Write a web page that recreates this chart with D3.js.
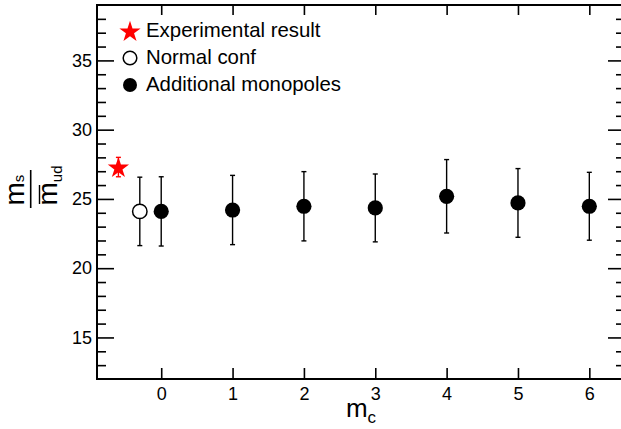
<!DOCTYPE html>
<html>
<head>
<meta charset="utf-8">
<script src="https://cdn.jsdelivr.net/npm/d3@7"></script>
<style>
  html, body { margin: 0; padding: 0; background: #fff; }
  svg { display: block; }
  text { font-family: "Liberation Sans", Arial, Helvetica, sans-serif; fill: #000; }
</style>
</head>
<body>
<svg id="chart" width="621" height="429"></svg>
<script>
// m_s / m_ud ratio versus number of additional monopoles m_c
const mcValues       = [0, 1, 2, 3, 4, 5, 6];
const monopoleRatio  = [24.1, 24.2, 24.47, 24.35, 25.19, 24.71, 24.47];
const monopoleError  = [2.5, 2.5, 2.5, 2.45, 2.65, 2.48, 2.45];

const normalX        = [-0.3];
const normalRatio    = [24.1];
const normalError    = [2.47];

const experimentX     = [-0.6];
const experimentRatio = [27.3];
const experimentError = [0.7];

const xTickValues = [0, 1, 2, 3, 4, 5, 6];
const yTickValues = [15, 20, 25, 30, 35];
const yMinorValues = d3.range(13, 39).filter(v => v % 5 !== 0);

const legendLabels = ["Experimental result", "Normal conf", "Additional monopoles"];

const svg = d3.select("#chart");
const plotLeft = 97, plotRight = 625, plotTop = 5, plotBottom = 379;

const x = d3.scaleLinear().domain([-0.9, 6.5]).range([plotLeft, plotRight]);
const y = d3.scaleLinear().domain([12, 39]).range([plotBottom, plotTop]);

const font = '"Liberation Sans", Arial, Helvetica, sans-serif';

// axes with inward ticks
function styleAxis(g) {
  g.select(".domain").remove();
  g.selectAll(".tick line").attr("stroke", "#000").attr("stroke-width", 1.6);
  g.selectAll(".tick text").attr("font-family", font).attr("font-size", 18).attr("fill", "#000");
}

svg.append("g").attr("transform", `translate(0,${plotBottom})`)
  .call(d3.axisBottom(x).tickValues(xTickValues).tickSize(-11).tickPadding(8).tickFormat(d3.format("d")))
  .call(styleAxis);
svg.append("g").attr("transform", `translate(0,${plotTop})`)
  .call(d3.axisTop(x).tickValues(xTickValues).tickSize(-10).tickFormat(""))
  .call(styleAxis);
svg.append("g").attr("transform", `translate(${plotLeft},0)`)
  .call(d3.axisLeft(y).tickValues(yTickValues).tickSize(-17).tickPadding(5).tickFormat(d3.format("d")))
  .call(styleAxis);
svg.append("g").attr("transform", `translate(${plotLeft},0)`)
  .call(d3.axisLeft(y).tickValues(yMinorValues).tickSize(-9).tickFormat(""))
  .call(styleAxis);
svg.append("g").attr("transform", `translate(${plotRight},0)`)
  .call(d3.axisRight(y).tickValues(yTickValues).tickSize(-17).tickFormat(""))
  .call(styleAxis);
svg.append("g").attr("transform", `translate(${plotRight},0)`)
  .call(d3.axisRight(y).tickValues(yMinorValues).tickSize(-9).tickFormat(""))
  .call(styleAxis);

// frame
svg.append("rect")
  .attr("x", plotLeft).attr("y", plotTop)
  .attr("width", plotRight - plotLeft).attr("height", plotBottom - plotTop)
  .attr("fill", "none").attr("stroke", "#000").attr("stroke-width", 2);

// error bars
function errorBars(xs, ys, es, color) {
  const g = svg.append("g").attr("stroke", color).attr("stroke-width", 1.4);
  xs.forEach((xv, i) => {
    const cx = x(xv), y0 = y(ys[i] - es[i]), y1 = y(ys[i] + es[i]);
    g.append("line").attr("x1", cx).attr("x2", cx).attr("y1", y0).attr("y2", y1);
    g.append("line").attr("x1", cx - 2.5).attr("x2", cx + 2.5).attr("y1", y0).attr("y2", y0);
    g.append("line").attr("x1", cx - 2.5).attr("x2", cx + 2.5).attr("y1", y1).attr("y2", y1);
  });
}

errorBars(experimentX, experimentRatio, experimentError, "#ff0000");
errorBars(normalX, normalRatio, normalError, "#000");
errorBars(mcValues, monopoleRatio, monopoleError, "#000");

const star = d3.symbol().type(d3.symbolStar).size(140);

svg.selectAll(".exp").data(experimentX).join("path")
  .attr("class", "exp")
  .attr("d", star)
  .attr("transform", (d, i) => `translate(${x(d)},${y(experimentRatio[i]) + 1})`)
  .attr("fill", "#ff0000");

svg.selectAll(".normal").data(normalX).join("circle")
  .attr("class", "normal")
  .attr("cx", d => x(d)).attr("cy", (d, i) => y(normalRatio[i]))
  .attr("r", 7.2).attr("fill", "#fff").attr("stroke", "#000").attr("stroke-width", 1.5);

svg.selectAll(".mono").data(mcValues).join("circle")
  .attr("class", "mono")
  .attr("cx", d => x(d)).attr("cy", (d, i) => y(monopoleRatio[i]))
  .attr("r", 7.6).attr("fill", "#000");

// legend
const legend = svg.append("g");
const rowY = [31, 58, 85];
legend.append("path").attr("d", star).attr("transform", `translate(130,${rowY[0] + 1})`).attr("fill", "#ff0000");
legend.append("circle").attr("cx", 130).attr("cy", rowY[1]).attr("r", 6.8)
  .attr("fill", "#fff").attr("stroke", "#000").attr("stroke-width", 1.5);
legend.append("circle").attr("cx", 130).attr("cy", rowY[2]).attr("r", 7).attr("fill", "#000");
legend.selectAll("text").data(legendLabels).join("text")
  .attr("x", 146).attr("y", (d, i) => rowY[i] + 5.5)
  .attr("font-size", 20.4)
  .text(d => d);

// x-axis title: m_c
const xt = svg.append("text").attr("x", 361).attr("y", 417).attr("text-anchor", "middle");
xt.append("tspan").attr("font-size", 26).text("m");
xt.append("tspan").attr("font-size", 17).attr("dy", 6).text("c");

// y-axis title: m_s over m̄_ud, written sideways
const yl = svg.append("g").attr("transform", "translate(0,191) rotate(-90)");
const num = yl.append("text").attr("x", -14.5).attr("y", 23.5);
num.append("tspan").attr("font-size", 28).text("m");
num.append("tspan").attr("font-size", 15).attr("dy", 0).text("s");
yl.append("line").attr("x1", -17).attr("x2", 21).attr("y1", 30.7).attr("y2", 30.7)
  .attr("stroke", "#000").attr("stroke-width", 1.6);
const den = yl.append("text").attr("x", -14.5).attr("y", 57);
den.append("tspan").attr("font-size", 28).text("m");
den.append("tspan").attr("font-size", 15).attr("dy", 5).text("ud");
yl.append("line").attr("x1", -13).attr("x2", 6).attr("y1", 39.5).attr("y2", 39.5)
  .attr("stroke", "#000").attr("stroke-width", 1.4);
</script>
</body>
</html>
